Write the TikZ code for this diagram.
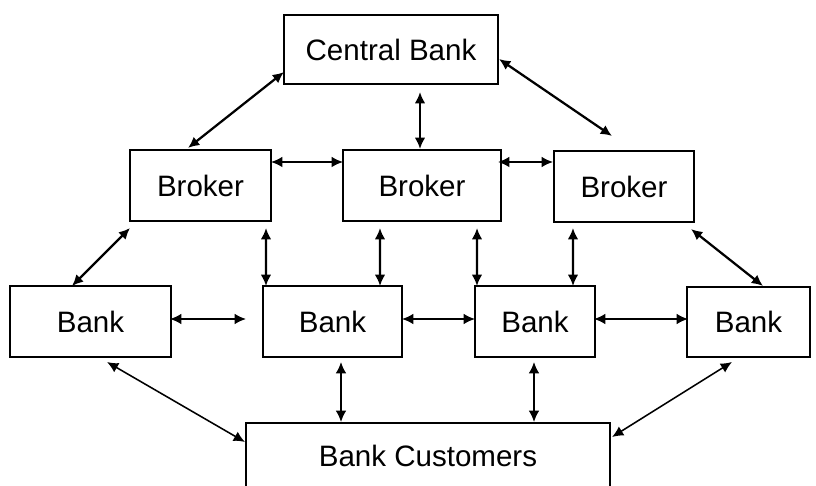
\documentclass[tikz,border=0pt]{standalone}
\usepackage{fontspec}
\setmainfont{Liberation Sans}
\usetikzlibrary{arrows.meta,calc}

\begin{document}
\begin{tikzpicture}
[x=0.025cm,y=-0.025cm,
box/.style={shape=rectangle,draw,line width=0.9pt,inner sep=0pt,outer sep=0pt,font=\fontsize{21}{25}\selectfont},
lnk/.style={<->,>={Latex[length=8pt,width=7.5pt]},line width=1.6pt},
lnkthin/.style={lnk,line width=1.1pt}]
%
\useasboundingbox (0,0) rectangle (816,486);
%
\node (cb) [box,minimum width=5.35cm,minimum height=1.725cm] at (391,49.5) {Central Bank};
%
\node (bl) [box,minimum width=3.525cm,minimum height=1.775cm] at (200.5,185.5) {Broker};
\node (bm) [box,minimum width=3.95cm,minimum height=1.775cm] at (422,185.5) {Broker};
\node (br) [box,minimum width=3.5cm,minimum height=1.775cm] at (624,186.5) {Broker};
%
\node (k1) [box,minimum width=4.025cm,minimum height=1.775cm] at (90.5,321.5) {Bank};
\node (k2) [box,minimum width=3.475cm,minimum height=1.775cm] at (332.5,321.5) {Bank};
\node (k3) [box,minimum width=3cm,minimum height=1.775cm] at (535,321.5) {Bank};
\node (k4) [box,minimum width=3.075cm,minimum height=1.75cm] at (748.5,322) {Bank};
%
\node (cu) [box,minimum width=9.1cm,minimum height=1.65cm] at (428,456) {Bank Customers};
%
\draw[lnk] ($(cb.south west)+(0,-12)$) -- ($(bl.north)+(-12.5,-2)$);
\draw[lnk] ($(cb.south)+(29,8)$) -- ($(bm.north)+(-2,-1)$);
\draw[lnk] ($(cb.east)+(1,9.5)$) -- ($(br.north)+(-12,-15)$);
%
\draw[lnkthin] ($(bl.north east)+(0,12)$) -- ($(bm.north west)+(0,12)$);
\draw[lnkthin] ($(bm.north east)+(-3,12)$) -- ($(br.north west)+(-1,11)$);
%
\draw[lnk] ($(bl.south west)+(0,7)$) -- ($(k1.north)+(-18.5,0)$);
\draw[lnk] ($(bl.south east)+(-5,7)$) -- ($(k2.north west)+(3,0)$);
\draw[lnk] ($(bm.south west)+(37,7)$) -- ($(k2.north east)+(-22,0)$);
\draw[lnk] ($(bm.south east)+(-24,7)$) -- ($(k3.north west)+(2,0)$);
\draw[lnk] ($(br.south west)+(19,6)$) -- ($(k3.north east)+(-22,0)$);
\draw[lnk] ($(br.south east)+(-3,7)$) -- ($(k4.north)+(14.5,-1)$);
%
\draw[lnkthin] ($(k1.east)+(-1,-2.5)$) -- ($(k2.west)+(-17,-2.5)$);
\draw[lnkthin] ($(k2.east)+(0,-2.5)$) -- ($(k3.west)+(0,-2.5)$);
\draw[lnkthin] ($(k3.east)+(-1,-2.5)$) -- ($(k4.west)+(1,-3)$);
%
\draw[lnkthin] ($(k1.south)+(16.5,5)$) -- ($(cu.north west)+(-1,19)$);
\draw[lnkthin] ($(k2.south)+(8.5,5)$) -- ($(cu.north)+(-87,-1)$);
\draw[lnkthin] ($(k3.south)+(-1,5)$) -- ($(cu.north)+(106,-1)$);
\draw[lnkthin] ($(k4.south)+(-16.5,5)$) -- ($(cu.north east)+(2,14)$);
\end{tikzpicture}
\end{document}
